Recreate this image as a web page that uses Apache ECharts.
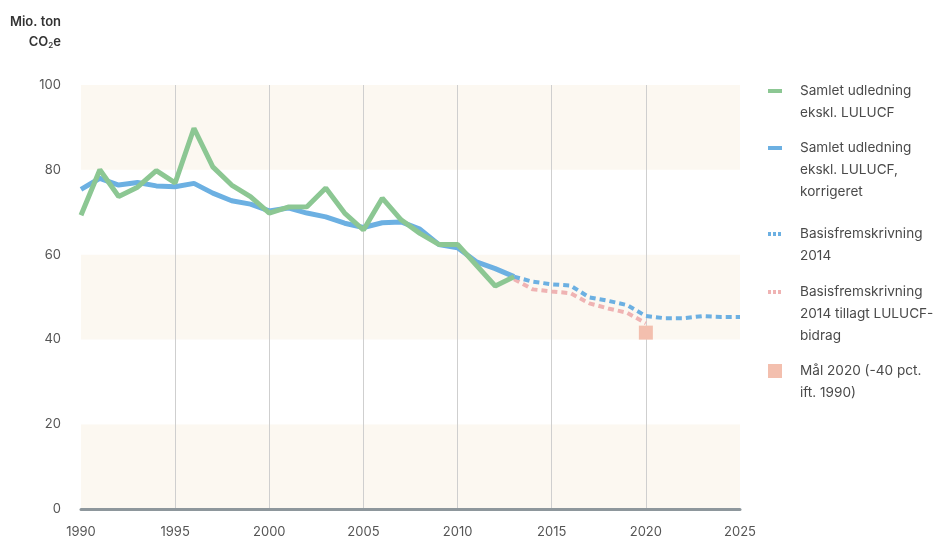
<!DOCTYPE html>
<html>
<head>
<meta charset="utf-8">
<script src="https://cdn.jsdelivr.net/npm/echarts@6/dist/echarts.min.js"></script>
<style>html,body{margin:0;padding:0;background:#fff}#c{width:933px;height:541px}</style>
</head>
<body>
<div id="c"></div>
<script>
var histYears = [1990,1991,1992,1993,1994,1995,1996,1997,1998,1999,2000,2001,2002,2003,2004,2005,2006,2007,2008,2009,2010,2011,2012,2013];
var samlet = [69.3,80.0,73.7,75.9,79.8,76.9,89.8,80.7,76.4,73.7,69.8,71.2,71.3,75.7,69.8,65.8,73.3,68.2,65.0,62.4,62.4,57.5,52.6,54.8];
var korrigeret = [75.4,78.0,76.4,77.0,76.2,76.0,76.8,74.5,72.7,71.9,70.3,71.0,69.8,68.9,67.4,66.4,67.5,67.7,66.0,62.4,61.6,58.3,56.7,54.8];
var projYears = [2013,2014,2015,2016,2017,2018,2019,2020,2021,2022,2023,2024,2025];
var basis2014 = [54.8,53.6,53.0,52.7,49.9,49.1,48.1,45.5,45.0,45.0,45.5,45.3,45.3];
var lulucfYears = [2013,2014,2015,2016,2017,2018,2019,2020];
var basisLulucf = [54.2,51.8,51.3,50.9,48.5,47.3,46.3,43.8];
var goalYear = [2020];
var goalValue = [41.6];
var xTicks = [1990,1995,2000,2005,2010,2015,2020,2025];
var yTicks = [0,20,40,60,80,100];
var seriesNames = ['Samlet udledning\nekskl. LULUCF','Samlet udledning\nekskl. LULUCF,\nkorrigeret','Basisfremskrivning\n2014','Basisfremskrivning\n2014 tillagt LULUCF-\nbidrag','Mål 2020 (-40 pct.\nift. 1990)'];

function pairs(xs, ys){ return xs.map(function(x,i){ return [x, ys[i]]; }); }

var GREEN = '#8cc793', BLUE = '#6cb0e2', PINK = '#efb3b3', SQUARE = '#f3bfae';
var FONT = 'Inter, "Noto Sans", sans-serif';

var chart = echarts.init(document.getElementById('c'), null, {renderer:'canvas'});

var legendTops = [91, 148, 234, 292, 371];
var legendColors = [GREEN, BLUE, BLUE, PINK, SQUARE];
var legendKinds = ['solid','solid','dot','dot','square'];
var graphics = [];
seriesNames.forEach(function(n, i){
  var y = legendTops[i];
  var kind = legendKinds[i];
  if (kind === 'square') {
    graphics.push({type:'rect', left:768, top:y-7, shape:{width:14,height:14}, style:{fill:legendColors[i]}});
  } else {
    graphics.push({type:'line', x:0, y:0, shape:{x1:768,y1:y,x2:782,y2:y}, style:{stroke:legendColors[i], lineWidth:4, lineDash: kind==='dot'?[3,2]:null}});
  }
  graphics.push({type:'text', x:800, y:y-11, style:{text:n, font:'13.6px '+FONT, fill:'#4a4a4a', lineHeight:22, textVerticalAlign:'top'}});
});
graphics.push({type:'text', x:61, y:12, style:{
  text:'{b|Mio. ton}\n{b|CO}{s|2}{b|e}', align:'right', verticalAlign:'top', lineHeight:20,
  rich:{b:{fontSize:13, fontWeight:600, fontFamily:FONT, fill:'#333', lineHeight:20}, s:{fontSize:8, fontWeight:600, fontFamily:FONT, fill:'#333', padding:[8,0,0,0], lineHeight:20}}
}});

chart.setOption({
  animation:false,
  backgroundColor:'#fff',
  grid:{left:81, right:193, top:85, bottom:32, containLabel:false},
  xAxis:{type:'value', min:1990, max:2025, interval:5,
    axisLine:{show:true, lineStyle:{color:'#8e979c', width:3}},
    axisTick:{show:false},
    axisLabel:{color:'#555', fontSize:13, fontFamily:FONT, margin:17, formatter:function(v){return xTicks.indexOf(v)>=0?String(v):'';}},
    splitLine:{show:true, showMinLine:false, showMaxLine:false, lineStyle:{color:'#cfcfcf', width:1}}
  },
  yAxis:{type:'value', min:0, max:100, interval:20,
    axisLine:{show:false}, axisTick:{show:false},
    axisLabel:{color:'#555', fontSize:13, fontFamily:FONT, margin:20, formatter:function(v){return yTicks.indexOf(v)>=0?String(v):'';}},
    splitLine:{show:false},
    splitArea:{show:true, areaStyle:{color:['#fcf8f1','#ffffff']}}
  },
  series:[
    {name:seriesNames[3], type:'line', data:pairs(lulucfYears, basisLulucf), showSymbol:false, symbol:'none',
      lineStyle:{color:PINK, width:4, type:[6,4]}, z:2},
    {name:seriesNames[2], type:'line', data:pairs(projYears, basis2014), showSymbol:false, symbol:'none',
      lineStyle:{color:BLUE, width:4, type:[6,4]}, z:3},
    {name:seriesNames[1], type:'line', data:pairs(histYears, korrigeret), showSymbol:false, symbol:'none',
      lineStyle:{color:BLUE, width:5}, z:4},
    {name:seriesNames[0], type:'line', data:pairs(histYears, samlet), showSymbol:false, symbol:'none',
      lineStyle:{color:GREEN, width:5}, z:5},
    {name:seriesNames[4], type:'scatter', data:pairs(goalYear, goalValue), symbol:'rect', symbolSize:[14,14],
      itemStyle:{color:SQUARE, opacity:1}, z:6}
  ],
  graphic:graphics
});
</script>
</body>
</html>
